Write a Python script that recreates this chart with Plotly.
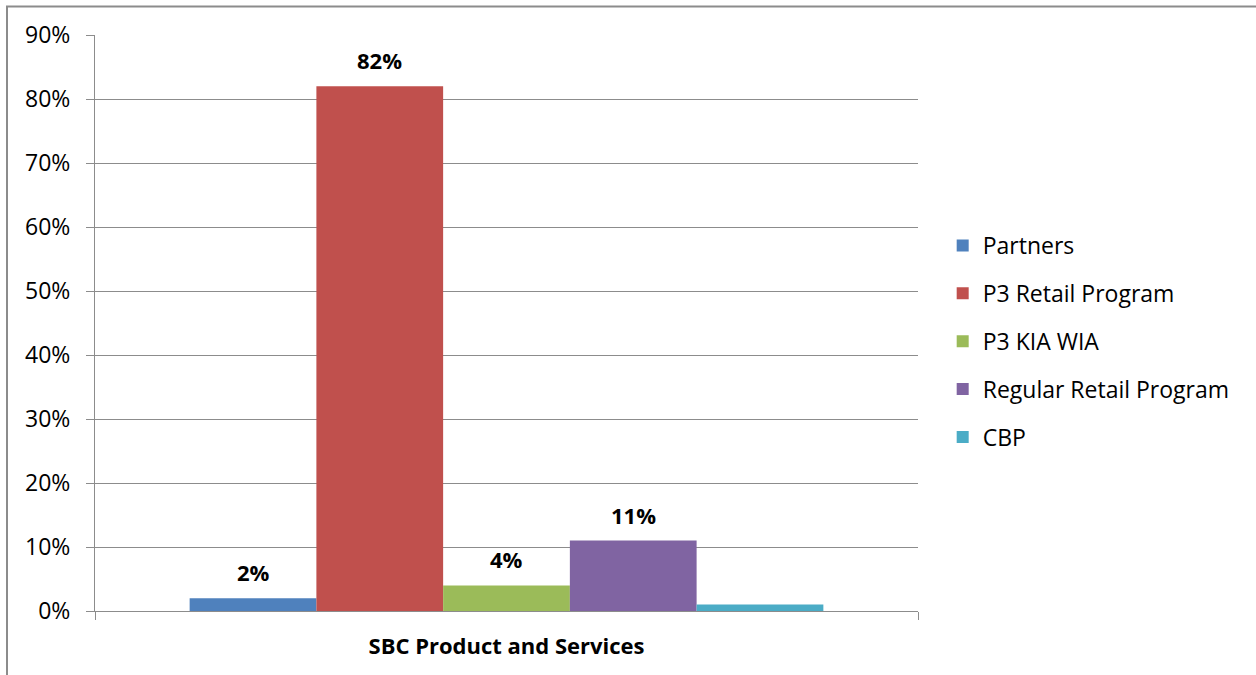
import plotly.graph_objects as go

categories = ["SBC Product and Services"]
series_names = ["Partners", "P3 Retail Program", "P3 KIA WIA", "Regular Retail Program", "CBP"]
series_values = [0.02, 0.82, 0.04, 0.11, 0.01]
series_labels = ["2%", "82%", "4%", "11%", None]
series_colors = ["#4F81BD", "#C0504D", "#9BBB59", "#8064A2", "#4BACC6"]
y_ticks = [0, 0.1, 0.2, 0.3, 0.4, 0.5, 0.6, 0.7, 0.8, 0.9]
y_tick_labels = ["0%", "10%", "20%", "30%", "40%", "50%", "60%", "70%", "80%", "90%"]

FONT = "Open Sans"
GRAY = "#8c8c8c"
bargap = 0.23

fig = go.Figure()
for i, (name, val, col) in enumerate(zip(series_names, series_values, series_colors)):
    fig.add_trace(go.Bar(
        x=categories, y=[val], name=name, marker=dict(color=col, line=dict(width=0)),
        legendgroup=name, hoverinfo="skip",
    ))

n = len(series_names)
bw = (1 - bargap) / n
annotations = []
for i, (val, lab) in enumerate(zip(series_values, series_labels)):
    if lab is None:
        continue
    annotations.append(dict(
        x=-0.5 * (1 - bargap) + (i + 0.5) * bw, y=val, xref="x", yref="y",
        text="<b>" + lab + "</b>", showarrow=False, yanchor="middle", yshift=26,
        font=dict(family=FONT, size=22, color="black"),
    ))

fig.update_layout(
    width=1256, height=675, autosize=False,
    margin=dict(l=95, r=338, t=35, b=64),
    paper_bgcolor="white", plot_bgcolor="white",
    barmode="group", bargap=bargap, bargroupgap=0,
    font=dict(family=FONT, color="black"),
    showlegend=True,
    legend=dict(
        x=1.030, xanchor="left", y=0.468, yanchor="middle",
        font=dict(family=FONT, size=23, color="black"),
        tracegroupgap=15, bgcolor="rgba(0,0,0,0)",
    ),
    annotations=annotations,
    shapes=[dict(
        type="rect", xref="paper", yref="paper",
        x0=(7 - 95) / 823, x1=(1270 - 95) / 823,
        y0=(611 - 690) / 576, y1=1 + (35 - 6.5) / 576,
        line=dict(color=GRAY, width=2), layer="below",
    )],
)

fig.update_xaxes(
    type="category", range=[-0.5, 0.5], tickson="boundaries",
    ticks="outside", ticklen=8, tickcolor=GRAY, tickwidth=1,
    showline=True, linecolor=GRAY, linewidth=1, showgrid=False,
    tickfont=dict(family=FONT, size=22, color="black", weight="bold"),
    ticklabelstandoff=16,
)
fig.update_yaxes(
    range=[0, 0.9], tickvals=y_ticks, ticktext=y_tick_labels,
    ticks="outside", ticklen=8, tickcolor=GRAY, tickwidth=1,
    showline=True, linecolor=GRAY, linewidth=1,
    showgrid=True, gridcolor=GRAY, gridwidth=1, zeroline=False,
    tickfont=dict(family=FONT, size=23, color="black"),
    ticklabelstandoff=11,
)

fig.write_html("out.html")
